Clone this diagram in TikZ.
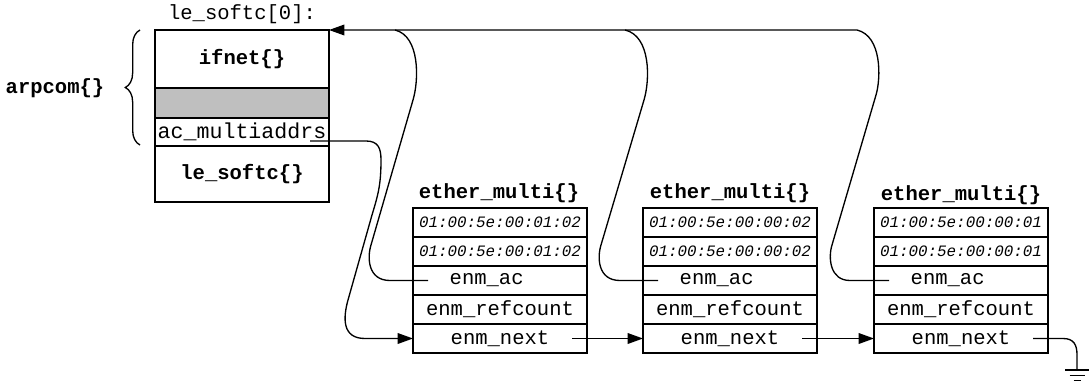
\documentclass[tikz,border=0pt]{standalone}
\usepackage{fontspec}
\setmonofont{Liberation Mono}
\usetikzlibrary{arrows.meta,decorations.pathreplacing,calc}
\begin{document}
\begin{tikzpicture}[x=0.75pt,y=-0.75pt,
  cell/.style={draw,line width=1.1pt,minimum width=130.5pt,inner sep=0pt,outer sep=0pt,anchor=north west,font=\ttfamily\fontsize{15.4}{16}\selectfont},
  addr/.style={cell,minimum height=21.75pt,font=\ttfamily\itshape\fontsize{11.9}{13}\selectfont},
  fld/.style={cell,minimum height=21.75pt},
  bcell/.style={cell,font=\ttfamily\bfseries\fontsize{15.4}{16}\selectfont},
  ttl/.style={font=\ttfamily\bfseries\fontsize{15.4}{16}\selectfont,inner sep=0pt},
  lbl/.style={font=\ttfamily\fontsize{15.4}{16}\selectfont,inner sep=0pt},
  conn/.style={line width=1pt},
  tip/.style={-{Triangle[length=11.5pt,width=8pt]}}
]
\useasboundingbox (0,0) rectangle (1089,382);

% main structure
\node[lbl] (lesoftc0) at (242,14) {le\_softc[0]:};
\node[bcell,minimum height=43.5pt] (ifn) at (155,30) {ifnet\{\}};
\node[cell,minimum height=22.5pt,fill=gray!50] (gry) at (155,88) {};
\node[cell,minimum height=21pt,font=\ttfamily\fontsize{16.2}{17}\selectfont] (acm) at (155,118) {ac\_multiaddrs};
\node[bcell,minimum height=42pt] (les) at (155,146) {le\_softc\{\}};
\node[ttl] (arp) at (55,88) {arpcom\{\}};
\draw[conn,decorate,decoration={brace,amplitude=11pt}] (140,145) -- (140,30);

% ether_multi 1
\node[ttl] (t1) at (499,193) {ether\_multi\{\}};
\node[addr] (a1x) at (413,208) {01:00:5e:00:01:02};
\node[addr] (a1y) at (413,237) {01:00:5e:00:01:02};
\node[fld] (a1ac) at (413,266) {enm\_ac\hspace*{20pt}};
\node[fld] (a1rc) at (413,295) {enm\_refcount};
\node[fld] (a1nx) at (413,324) {enm\_next};

% ether_multi 2
\node[ttl] (t2) at (730,193) {ether\_multi\{\}};
\node[addr] (a2x) at (643,208) {01:00:5e:00:00:02};
\node[addr] (a2y) at (643,237) {01:00:5e:00:00:02};
\node[fld] (a2ac) at (643,266) {enm\_ac\hspace*{20pt}};
\node[fld] (a2rc) at (643,295) {enm\_refcount};
\node[fld] (a2nx) at (643,324) {enm\_next};

% ether_multi 3
\node[ttl] (t3) at (961,195) {ether\_multi\{\}};
\node[addr] (a3x) at (874,208) {01:00:5e:00:00:01};
\node[addr] (a3y) at (874,237) {01:00:5e:00:00:01};
\node[fld] (a3ac) at (874,266) {enm\_ac\hspace*{20pt}};
\node[fld] (a3rc) at (874,295) {enm\_refcount};
\node[fld] (a3nx) at (874,324) {enm\_next};

% ac_multiaddrs -> first enm_next
\coordinate (acs) at (310,141);
\draw[conn,tip] (acs) -- (366,141) .. controls (378,141) and (381,148) .. (381,160)
  .. controls (381,185) and (378,195) .. (372,215) -- (348,300)
  .. controls (343,318) and (342,338.5) .. (365,338.5) -- (a1nx.west);

% enm_ac loops back to le_softc[0]
\coordinate (top1) at (395,30);
\coordinate (top2) at (625,30);
\draw[conn] ($(a1ac.west)+(15,0)$) -- (390,280.5) .. controls (368,280.5) and (367,258) .. (371,245)
  -- (413,100) .. controls (419,80) and (420,36) .. (top1);
\draw[conn] ($(a2ac.west)+(15,0)$) -- (620,280.5) .. controls (598,280.5) and (597,258) .. (601,245)
  -- (644,100) .. controls (650,80) and (651,36) .. (top2);
\draw[conn,tip] ($(a3ac.west)+(15,0)$) -- (850,280.5) .. controls (830,280.5) and (828,258) .. (832,245)
  -- (876,95) .. controls (881,78) and (882,36) .. (857,30) -- (ifn.north east);

% enm_next chain
\draw[conn,tip] ($(a1nx.east)+(-15,0)$) -- (a2nx.west);
\draw[conn,tip] ($(a2nx.east)+(-15,0)$) -- (a3nx.west);
\coordinate (gnd) at (1077,370);
\draw[conn] ($(a3nx.east)+(-15,0)$) -- (1063,338.5) .. controls (1074,338.5) and (1077,345) .. (1077,355) -- (gnd);
\draw[conn] ($(gnd)+(-12,0)$) -- ($(gnd)+(12,0)$);
\draw[conn] ($(gnd)+(-7.5,5.5)$) -- ($(gnd)+(7.5,5.5)$);
\draw[conn] ($(gnd)+(-3.5,10.5)$) -- ($(gnd)+(3.5,10.5)$);
\end{tikzpicture}
\end{document}
